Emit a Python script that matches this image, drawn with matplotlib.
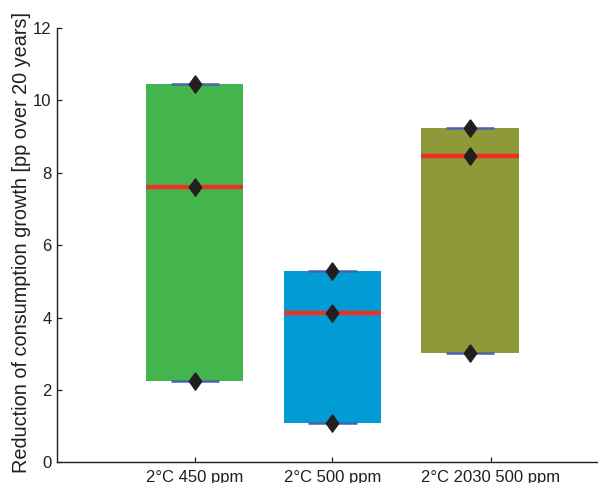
import matplotlib
matplotlib.use("Agg")
import matplotlib.pyplot as plt

categories = ['2°C 450 ppm', '2°C 500 ppm', '2°C 2030 500 ppm']
low = [2.25, 1.10, 3.02]
median = [7.62, 4.14, 8.46]
high = [10.46, 5.29, 9.24]
bar_colors = ['#43b54c', '#009cd3', '#8e9939']
y_ticks = [0, 2, 4, 6, 8, 10, 12]

plt.rcParams['font.family'] = ['Liberation Sans', 'DejaVu Sans']

fig = plt.figure(figsize=(5.98, 4.83), dpi=100)
ax = fig.add_axes([57.3 / 598, 1 - 462.4 / 483, (607.6 - 57.3) / 598, (462.4 - 28) / 483])

x = [1, 2, 3]
bw = 0.706
hw = 0.175
dia = [(0, 1), (0.72, 0), (0, -1), (-0.72, 0), (0, 1)]

for i in range(len(categories)):
    ax.bar(x[i], high[i] - low[i], bottom=low[i], width=bw, color=bar_colors[i],
           edgecolor='none', zorder=2)
    ax.plot([x[i] - bw / 2, x[i] + bw / 2], [median[i], median[i]], color='#ee3124',
            lw=3.2, solid_capstyle='butt', zorder=3)
    for v in (low[i], high[i]):
        ax.plot([x[i] - hw, x[i] + hw], [v, v], color='#4664ad', lw=1.8,
                solid_capstyle='butt', zorder=3)
    ax.plot([x[i]] * 3, [low[i], median[i], high[i]], linestyle='none',
            marker=dia, markersize=12.5, color='#231f20', zorder=4)

ax.set_xlim(0, 4)
ax.set_ylim(0, 12)
ax.set_yticks(y_ticks)
ax.set_yticklabels([str(t) for t in y_ticks])
ax.set_xticks([1, 2, 3.15])
ax.set_xticklabels(categories)
ax.spines['top'].set_visible(False)
ax.spines['right'].set_visible(False)
for s in ('left', 'bottom'):
    ax.spines[s].set_color('#231f20')
    ax.spines[s].set_linewidth(1.0)
ax.tick_params(direction='in', length=3.5, width=0.9, colors='#231f20',
               labelsize=12, pad=4)
ax.tick_params(axis='x', pad=5.5)
ax.set_ylabel('Reduction of consumption growth [pp over 20 years]', fontsize=14.3,
              color='#231f20')
ax.yaxis.set_label_coords(-0.048, 0.506)

fig.savefig('out.png', dpi=100)
